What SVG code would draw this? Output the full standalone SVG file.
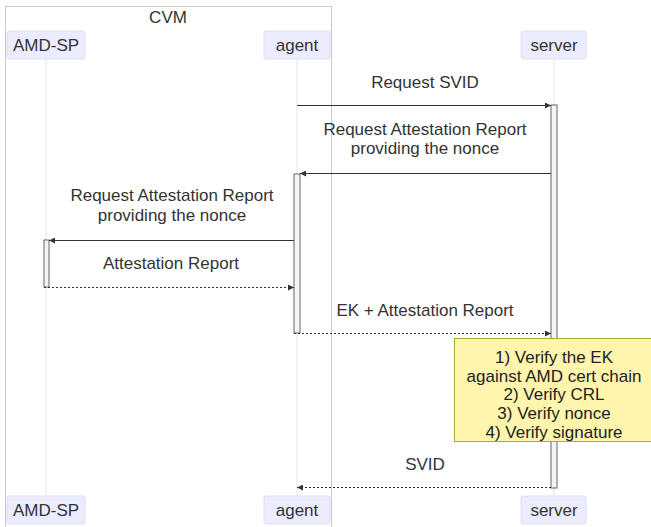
<svg xmlns="http://www.w3.org/2000/svg" width="651" height="527" viewBox="0 0 651 527">
<style>
text{font-family:"Liberation Sans",Arial,sans-serif;font-size:17px;fill:#333;text-anchor:middle;dominant-baseline:central}
.note text{fill:#222}
.actor{fill:#ECECFF;stroke:#e0dcf5;stroke-width:1}
.life{stroke:#e3e0f7;stroke-width:1}
.act{fill:#f4f4f4;stroke:#666;stroke-width:1}
.msg{stroke:#333;stroke-width:1;fill:none}
.dot{stroke-dasharray:2,2}
</style>
<defs>
<marker id="ah" viewBox="0 0 10 10" refX="10" refY="5" markerWidth="6" markerHeight="6" orient="auto-start-reverse" markerUnits="userSpaceOnUse">
<path d="M0,0 L10,5 L0,10 z" fill="#333"/>
</marker>
</defs>
<rect width="651" height="527" fill="#fff"/>
<g id="cvm">
<rect x="5.5" y="6.5" width="326" height="540" fill="none" stroke="#c8c8c8" stroke-width="1"/>
<text x="168" y="17">CVM</text>
</g>
<g id="lifelines">
<line class="life" x1="46" y1="59" x2="46" y2="496"/>
<line class="life" x1="297" y1="59" x2="297" y2="496"/>
<line class="life" x1="554" y1="59" x2="554" y2="496"/>
</g>
<g id="activations">
<rect class="act" x="551" y="105" width="6" height="383"/>
<rect class="act" x="294" y="174" width="6" height="159"/>
<rect class="act" x="44" y="240" width="5" height="47"/>
</g>
<g id="actor-amdsp-top"><rect class="actor" x="7" y="31" width="78" height="28" rx="2"/><text x="46" y="45">AMD-SP</text></g>
<g id="actor-agent-top"><rect class="actor" x="264" y="31" width="66" height="28" rx="2"/><text x="297" y="45">agent</text></g>
<g id="actor-server-top"><rect class="actor" x="521" y="31" width="65" height="28" rx="2"/><text x="554" y="45">server</text></g>
<g id="actor-amdsp-bottom"><rect class="actor" x="7" y="496" width="78" height="28" rx="2"/><text x="46" y="510">AMD-SP</text></g>
<g id="actor-agent-bottom"><rect class="actor" x="264" y="496" width="66" height="28" rx="2"/><text x="297" y="510">agent</text></g>
<g id="actor-server-bottom"><rect class="actor" x="521" y="496" width="65" height="28" rx="2"/><text x="554" y="510">server</text></g>
<g id="connectors">
<line class="msg" x1="297" y1="105.5" x2="551" y2="105.5" marker-end="url(#ah)"/>
<line class="msg" x1="551" y1="173.5" x2="300" y2="173.5" marker-end="url(#ah)"/>
<line class="msg" x1="294" y1="240.5" x2="49" y2="240.5" marker-end="url(#ah)"/>
<line class="msg dot" x1="44" y1="287.5" x2="294" y2="287.5" marker-end="url(#ah)"/>
<line class="msg dot" x1="294" y1="333.5" x2="551" y2="333.5" marker-end="url(#ah)"/>
<line class="msg dot" x1="551" y1="487.5" x2="297" y2="487.5" marker-end="url(#ah)"/>
</g>
<g id="labels">
<text x="425" y="82">Request SVID</text>
<text x="425" y="129">Request Attestation Report</text>
<text x="425" y="148">providing the nonce</text>
<text x="172" y="195">Request Attestation Report</text>
<text x="172" y="215">providing the nonce</text>
<text x="171" y="263">Attestation Report</text>
<text x="425" y="310">EK + Attestation Report</text>
<text x="425" y="464">SVID</text>
</g>
<g id="note" class="note">
<rect x="454.5" y="338.5" width="200" height="103" fill="#fff5ad" stroke="#aaaa33" stroke-width="1"/>
<text x="554" y="357">1) Verify the EK</text>
<text x="554" y="376">against AMD cert chain</text>
<text x="554" y="394">2) Verify CRL</text>
<text x="554" y="413">3) Verify nonce</text>
<text x="554" y="432">4) Verify signature</text>
</g>
</svg>
